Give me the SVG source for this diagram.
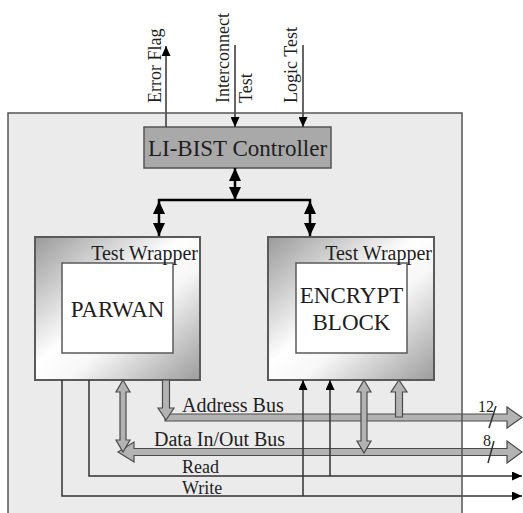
<svg xmlns="http://www.w3.org/2000/svg" width="523" height="513" viewBox="0 0 523 513">
<style>
text{font-family:"Liberation Serif","Times New Roman",serif;fill:#1e1e1e}
.thin{fill:none;stroke:#333;stroke-width:1.5}
.bold{fill:none;stroke:#000;stroke-width:2.5}
.bus{fill:#b3b3b3;stroke:#4a4a4a;stroke-width:1.2;stroke-linejoin:miter}
.wrap{fill:url(#wg);stroke:#5a5a5a;stroke-width:2}
.core{fill:#fff;stroke:#5a5a5a;stroke-width:1.5}
</style>
<defs>
<linearGradient id="wg" x1="0" y1="0" x2="1" y2="1">
<stop offset="0" stop-color="#9a9a9a"/>
<stop offset="0.45" stop-color="#ffffff"/>
<stop offset="0.6" stop-color="#f7f7f7"/>
<stop offset="1" stop-color="#9c9c9c"/>
</linearGradient>
<marker id="ah" markerUnits="userSpaceOnUse" markerWidth="10" markerHeight="9" refX="10" refY="4.5" orient="auto-start-reverse">
<path d="M0,0 L10,4.5 L0,9 z" fill="#000"/>
</marker>
<marker id="bh" markerUnits="userSpaceOnUse" markerWidth="13" markerHeight="12" refX="13" refY="6" orient="auto-start-reverse">
<path d="M0,0 L13,6 L0,12 z" fill="#000"/>
</marker>
</defs>
<rect width="523" height="513" fill="#fff"/>
<g id="chip">
<rect x="8" y="113" width="454" height="410" fill="#ebebeb"/>
</g>
<g id="controller">
<rect x="144" y="127" width="187" height="41" fill="#a9a9a9" stroke="#555" stroke-width="1.5"/>
<text x="237.5" y="156" font-size="23" text-anchor="middle">LI-BIST Controller</text>
</g>
<g id="wrapper-parwan">
<rect class="wrap" x="35" y="237" width="165" height="143"/>
<rect class="core" x="62" y="263" width="111" height="90"/>
<text x="198" y="260" font-size="20" text-anchor="end">Test Wrapper</text>
<text x="117.5" y="317" font-size="23" text-anchor="middle">PARWAN</text>
</g>
<g id="wrapper-encrypt">
<rect class="wrap" x="268" y="237" width="166" height="143"/>
<rect class="core" x="296" y="263" width="111" height="90"/>
<text x="432" y="260" font-size="20" text-anchor="end">Test Wrapper</text>
<text x="351.5" y="303" font-size="23" text-anchor="middle">ENCRYPT</text>
<text x="351.5" y="330" font-size="23" text-anchor="middle">BLOCK</text>
</g>
<g id="connectors">
<line class="thin" x1="166" y1="127" x2="166" y2="46" marker-end="url(#ah)"/>
<line class="thin" x1="235" y1="45" x2="235" y2="127" marker-end="url(#ah)"/>
<line class="thin" x1="303" y1="45" x2="303" y2="127" marker-end="url(#ah)"/>
<line class="bold" x1="235" y1="168" x2="235" y2="200" marker-start="url(#bh)" marker-end="url(#bh)"/>
<polyline class="bold" points="159,201 159,200 310,200 310,201"/>
<line class="bold" x1="159" y1="201" x2="159" y2="236" marker-start="url(#bh)" marker-end="url(#bh)"/>
<line class="bold" x1="310" y1="201" x2="310" y2="236" marker-start="url(#bh)" marker-end="url(#bh)"/>
<polygon class="bus" points="165,414 507,414 507,407 522,417.5 507,428 507,421 165,421"/>
<polygon class="bus" points="118,452 134,442 134,448.5 507,448.5 507,441 522,452 507,463 507,455.5 134,455.5 134,462"/>
<polygon class="bus" points="162.5,380 169.5,380 169.5,408 174,408 166,420 158,408 162.5,408"/>
<polygon class="bus" points="395.5,417 395.5,392 391,392 399,380 407,392 402.5,392 402.5,417"/>
<polygon class="bus" points="123,380 130,392 126,392 126,440 130,440 123,452 116,440 120,440 120,392 116,392"/>
<polygon class="bus" points="364,380 371,392 367,392 367,441 371,441 364,453 357,441 361,441 361,392 357,392"/>
<polyline class="thin" points="62,380 62,496 522,496" marker-end="url(#ah)"/>
<polyline class="thin" points="89,380 89,476 522,476" marker-end="url(#ah)"/>
<line class="thin" x1="303" y1="496" x2="303" y2="380" marker-end="url(#ah)"/>
<line class="thin" x1="330" y1="476" x2="330" y2="380" marker-end="url(#ah)"/>
<line class="thin" x1="489" y1="428" x2="496" y2="406"/>
<line class="thin" x1="488" y1="463" x2="494" y2="441"/>
</g>
<g id="chip-border">
<rect x="8" y="113" width="454" height="410" fill="none" stroke="#555" stroke-width="1.5"/>
</g>
<g id="labels">
<text transform="translate(161,103) rotate(-90)" font-size="18">Error Flag</text>
<text transform="translate(229,103) rotate(-90)" font-size="18">Interconnect</text>
<text transform="translate(252,103) rotate(-90)" font-size="18">Test</text>
<text transform="translate(297,103) rotate(-90)" font-size="18">Logic Test</text>
<text x="182" y="412" font-size="20">Address Bus</text>
<text x="154" y="446" font-size="20">Data In/Out Bus</text>
<text x="182" y="473" font-size="18">Read</text>
<text x="182" y="494" font-size="18">Write</text>
<text x="478" y="412" font-size="16">12</text>
<text x="483" y="446" font-size="16">8</text>
</g>
</svg>
